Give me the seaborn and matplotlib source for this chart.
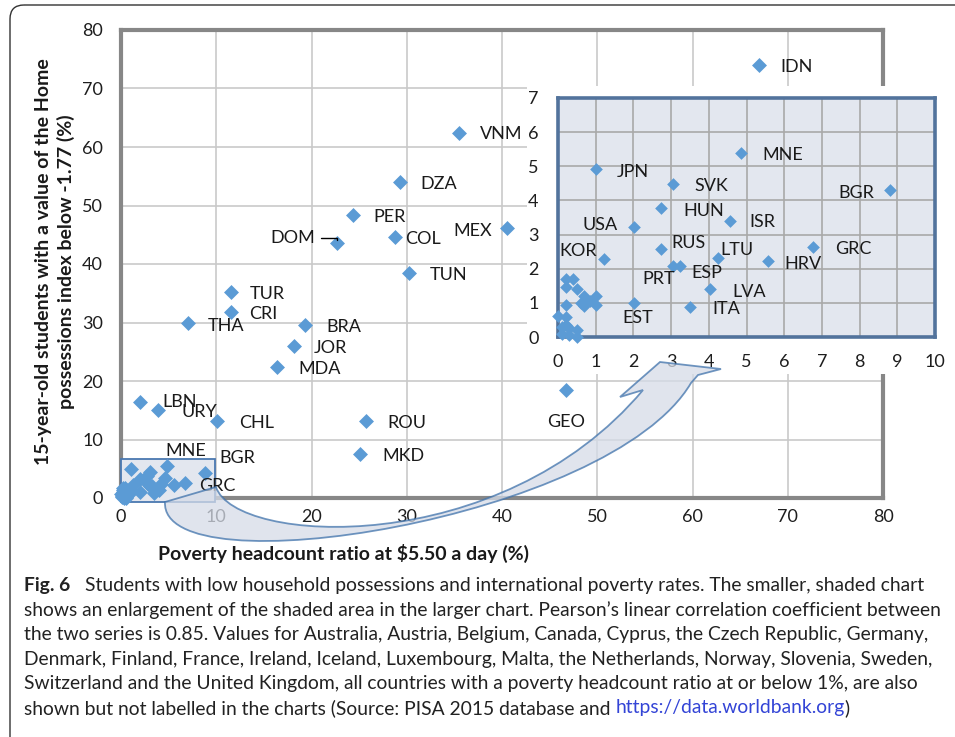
import matplotlib
matplotlib.use("Agg")
import matplotlib.pyplot as plt
from matplotlib.patches import Rectangle, FancyBboxPatch, PathPatch
from matplotlib.path import Path
from matplotlib.transforms import Affine2D
import seaborn as sns
import pandas as pd

# labelled countries: poverty headcount ratio at $5.50 a day (%) and
# share of 15-year-olds with Home possessions index below -1.77 (%)
countries = ["IDN", "VNM", "DZA", "PER", "DOM", "COL", "MEX", "TUN", "TUR", "CRI",
             "THA", "BRA", "JOR", "MDA", "LBN", "URY", "CHL", "ROU", "MKD", "GEO",
             "MNE", "JPN", "SVK", "BGR", "HUN", "ISR", "USA", "RUS", "GRC", "LTU",
             "KOR", "HRV", "PRT", "ESP", "LVA", "EST", "ITA"]
poverty = [67.0, 35.5, 29.3, 24.4, 22.7, 28.8, 40.5, 30.2, 11.5, 11.5,
           7.0, 19.3, 18.2, 16.4, 2.0, 3.9, 10.1, 25.7, 25.1, 46.7,
           4.86, 1.01, 3.05, 8.80, 2.73, 4.57, 2.01, 2.73, 6.76, 4.25,
           1.23, 5.57, 3.04, 3.23, 4.04, 2.01, 3.51]
low_possessions = [74.0, 62.4, 54.0, 48.4, 43.6, 44.6, 46.2, 38.5, 35.2, 31.8,
                   29.9, 29.6, 26.0, 22.4, 16.4, 15.1, 13.2, 13.2, 7.5, 18.5,
                   5.39, 4.92, 4.49, 4.30, 3.78, 3.40, 3.21, 2.59, 2.64, 2.32,
                   2.27, 2.22, 2.07, 2.07, 1.41, 0.99, 0.89]

# countries with poverty ratio at or below 1 %, shown but not labelled
unlabelled_poverty = [0.2, 0.4, 0.2, 0.5, 0.7, 1.0, 0.7, 1.0, 0.85, 0.2,
                      0.0, 0.2, 0.2, 0.3, 0.5, 0.1, 0.5, 0.1, 0.6, 0.3]
unlabelled_possessions = [1.7, 1.7, 1.45, 1.4, 1.2, 1.2, 0.9, 0.95, 1.05, 0.95,
                          0.62, 0.6, 0.35, 0.25, 0.2, 0.1, 0.0, 0.3, 1.0, 0.05]

main_labels = ["IDN", "VNM", "DZA", "PER", "DOM", "COL", "MEX", "TUN", "TUR", "CRI",
               "THA", "BRA", "JOR", "MDA", "LBN", "URY", "CHL", "ROU", "MKD", "GEO",
               "MNE", "BGR", "GRC"]
inset_labels = ["MNE", "JPN", "SVK", "BGR", "HUN", "ISR", "USA", "RUS", "GRC", "LTU",
                "KOR", "HRV", "PRT", "ESP", "LVA", "EST", "ITA"]

# label placement (pixels right, pixels up, alignment)
main_offsets = {
    "IDN": (21, -2, "left"), "VNM": (21, -1, "left"), "DZA": (20, -2, "left"),
    "PER": (20, -2, "left"), "DOM": (-22, 5, "right"), "COL": (10, -2, "left"),
    "MEX": (-15, -3, "right"), "TUN": (21, -2, "left"), "TUR": (19, -2, "left"),
    "CRI": (19, -2, "left"), "THA": (20, -3, "left"), "BRA": (22, -2, "left"),
    "JOR": (19, -2, "left"), "MDA": (21, -2, "left"), "LBN": (22, 0, "left"),
    "URY": (23, -2, "left"), "CHL": (22, -2, "left"), "ROU": (22, -2, "left"),
    "MKD": (22, -2, "left"), "GEO": (0, -32, "center"), "MNE": (18, 15, "center"),
    "BGR": (15, 15, "left"), "GRC": (14, -3, "left"),
}
inset_offsets = {
    "MNE": (21, -2, "left"), "JPN": (21, -3, "left"), "SVK": (21, -2, "left"),
    "BGR": (-16, -3, "right"), "HUN": (22, -3, "left"), "ISR": (19, -1, "left"),
    "USA": (-16, 2, "right"), "RUS": (10, 6, "left"), "GRC": (22, -2, "left"),
    "LTU": (2, 8, "left"), "KOR": (-7, 8, "right"), "HRV": (16, -3, "left"),
    "PRT": (2, -13, "right"), "ESP": (12, -7, "left"), "LVA": (22, -3, "left"),
    "EST": (4, -15, "center"), "ITA": (22, -2, "left"),
}

caption_lines = [
    "shows an enlargement of the shaded area in the larger chart. Pearson\u2019s linear correlation coefficient between",
    "the two series is 0.85. Values for Australia, Austria, Belgium, Canada, Cyprus, the Czech Republic, Germany,",
    "Denmark, Finland, France, Ireland, Iceland, Luxembourg, Malta, the Netherlands, Norway, Slovenia, Sweden,",
    "Switzerland and the United Kingdom, all countries with a poverty headcount ratio at or below 1%, are also",
]

blue = "#5b9bd5"
shade = "#e3e7ef"

df = pd.DataFrame({
    "country": countries + [""] * len(unlabelled_poverty),
    "poverty": poverty + unlabelled_poverty,
    "possessions": low_possessions + unlabelled_possessions,
})
inset_df = df[(df["poverty"] <= 10) & (df["possessions"] <= 7)]

sns.set_theme(style="white")
plt.rcParams["font.family"] = ["Lato", "DejaVu Sans"]

W, H = 955, 737
fig = plt.figure(figsize=(W / 100, H / 100), dpi=100)
pix = Affine2D().scale(1 / W, -1 / H).translate(0, 1) + fig.transFigure

# ---- main chart
ax = fig.add_axes([121 / W, 1 - 498 / H, 762 / W, 468 / H])
sns.scatterplot(data=df, x="poverty", y="possessions", marker="D", s=58,
                color=blue, linewidth=0, legend=False, clip_on=False, zorder=3, ax=ax)
ax.set_xlim(0, 80)
ax.set_ylim(0, 80)
ax.set_xticks(range(0, 81, 10))
ax.set_yticks(range(0, 81, 10))
ax.grid(True, color="#c9c9c9", lw=1.2)
ax.set_axisbelow(True)
for sp in ax.spines.values():
    sp.set_color("#878787")
    sp.set_linewidth(3)
ax.tick_params(length=0, labelsize=13, colors="#1e1e1e")
ax.tick_params(axis="x", pad=8)
ax.tick_params(axis="y", pad=13)
ax.set_xlabel("")
ax.set_ylabel("")

ax.add_patch(Rectangle((-0.05, -0.6), 9.9, 7.25, facecolor=shade, edgecolor="#4a78b0",
                       lw=1.3, zorder=2.6, clip_on=False))

lookup = df.set_index("country")
for code in main_labels:
    dx, dy, ha = main_offsets[code]
    x, y = lookup.loc[code, "poverty"], lookup.loc[code, "possessions"]
    kw = {}
    if code == "DOM":
        # small elbow leader line from label to marker
        kw["arrowprops"] = dict(arrowstyle="-", lw=1, color="black",
                                connectionstyle="angle,angleA=0,angleB=90,rad=0",
                                shrinkA=2, shrinkB=2)
    ax.annotate(code, (x, y), xytext=(dx, dy), textcoords="offset pixels",
                ha=ha, va="center", fontsize=13, color="#1a1a1a", zorder=4, **kw)

# white backing behind the inset
fig.add_artist(Rectangle((527, 86), 440, 288, transform=pix, facecolor="white",
                         edgecolor="none", zorder=1))

# ---- inset (enlargement of shaded area)
ax_in = fig.add_axes([558 / W, 1 - 337 / H, 377 / W, 239 / H])
ax_in.set_zorder(2)
ax_in.set_facecolor(shade)
sns.scatterplot(data=inset_df, x="poverty", y="possessions", marker="D", s=42,
                color=blue, linewidth=0, legend=False, clip_on=False, zorder=3, ax=ax_in)
ax_in.set_xlim(0, 10)
ax_in.set_ylim(0, 7)
ax_in.set_xticks(range(0, 11))
ax_in.set_yticks(range(0, 8))
ax_in.grid(True, color="#a9a9a9", lw=1.2)
ax_in.set_axisbelow(True)
for sp in ax_in.spines.values():
    sp.set_color("#52739c")
    sp.set_linewidth(2.6)
ax_in.tick_params(length=0, labelsize=13, colors="#1e1e1e")
ax_in.tick_params(axis="x", pad=12)
ax_in.tick_params(axis="y", pad=14)
ax_in.set_xlabel("")
ax_in.set_ylabel("")
for code in inset_labels:
    dx, dy, ha = inset_offsets[code]
    x, y = lookup.loc[code, "poverty"], lookup.loc[code, "possessions"]
    ax_in.annotate(code, (x, y), xytext=(dx, dy), textcoords="offset pixels",
                   ha=ha, va="center", fontsize=13, color="#1a1a1a", zorder=4)

# curved arrow from the shaded box to the inset
verts = [(165, 502), (216, 487),
         (235, 545), (500, 560), (643, 390),
         (620, 397), (660, 362), (721, 369), (698, 375), (691, 383),
         (610, 520), (160, 590), (165, 502),
         (165, 502)]
codes = [Path.MOVETO, Path.LINETO,
         Path.CURVE4, Path.CURVE4, Path.CURVE4,
         Path.LINETO, Path.LINETO, Path.LINETO, Path.LINETO, Path.LINETO,
         Path.CURVE4, Path.CURVE4, Path.CURVE4,
         Path.CLOSEPOLY]
fig.add_artist(PathPatch(Path(verts, codes), transform=pix, facecolor="#d6dce8",
                         alpha=0.75, edgecolor="#3f72ab", lw=1.3, zorder=3))

# axis titles
fig.text(55 / W, 1 - 262 / H,
         "15-year-old students with a value of the Home\npossessions index below -1.77 (%)",
         rotation=90, ha="center", va="center", multialignment="center", linespacing=1.3,
         fontsize=14, fontweight="bold", color="#1a1a1a")
fig.text(158 / W, 1 - 553 / H, "Poverty headcount ratio at $5.50 a day (%)",
         ha="left", va="center", fontsize=14, fontweight="bold", color="#1a1a1a")

# caption
cap_texts = []
fig6 = fig.text(24 / W, 1 - 585 / H, "Fig. 6", ha="left", va="center",
                fontsize=13, fontweight="bold", color="#222222")
cap_texts.append(fig6)
cap_texts.append(fig.text(85 / W, 1 - 585 / H,
                          "Students with low household possessions and international poverty rates. "
                          "The smaller, shaded chart", ha="left", va="center",
                          fontsize=13, color="#222222"))
body = []
for i, line in enumerate(caption_lines):
    t = fig.text(24 / W, 1 - (610 + 24.6 * i) / H, line, ha="left", va="center",
                 fontsize=13, color="#222222")
    cap_texts.append(t)
    body.append(t)
last = fig.text(24 / W, 1 - 708 / H,
                "shown but not labelled in the charts (Source: PISA 2015 database and",
                ha="left", va="center", fontsize=13, color="#222222")
cap_texts.append(last)
t_link = fig.text(0, 0, "https://data.worldbank.org", fontsize=13, color="#3344d6",
                  ha="left", va="center")
t_close = fig.text(0, 0, ")", fontsize=13, color="#222222", ha="left", va="center")
cap_texts += [t_link, t_close]

# fit caption size so the longest line spans the same width as in the figure
fig.canvas.draw()
r = fig.canvas.get_renderer()
wid = body[0].get_window_extent(r).width
scale = 919 / wid
for t in cap_texts:
    t.set_fontsize(13 * scale)
fig.canvas.draw()
bb = last.get_window_extent(r)
t_link.set_position(((bb.x1 + 5) / W, 1 - 708 / H))
fig.canvas.draw()
bb = t_link.get_window_extent(r)
t_close.set_position((bb.x1 / W, 1 - 708 / H))

fig.add_artist(FancyBboxPatch((10, 5), 1000, 800, boxstyle="round,pad=0,rounding_size=14",
                              transform=pix, facecolor="none", edgecolor="#333333", lw=1))

fig.savefig("out.png", dpi=100)
